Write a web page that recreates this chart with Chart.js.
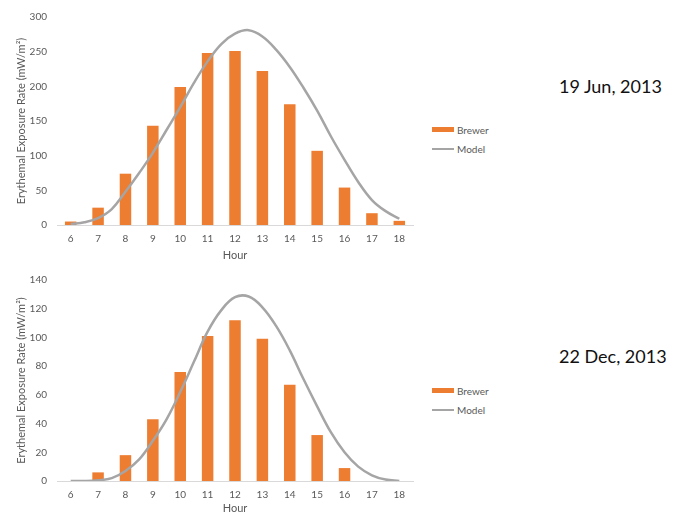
<!DOCTYPE html>
<html>
<head>
<meta charset="utf-8">
<script src="https://cdn.jsdelivr.net/npm/chart.js@4.4.0/dist/chart.umd.min.js"></script>
<style>
    body { margin: 0; background: #fff; font-family: Lato, "Open Sans", sans-serif; }
    .box { position: absolute; left: 0; width: 420px; }
    .date { position: absolute; font-size: 18px; color: #111; left: 559px; }
    .legend { position: absolute; left: 432px; font-size: 10px; color: #595959; }
    .legend div { height: 19px; display: flex; align-items: center; }
    .sw { display: inline-block; width: 22px; margin-right: 3px; }
</style>
</head>
<body>
<div class="box" style="top:0;height:262px;"><canvas id="chart-jun"></canvas></div>
<div class="box" style="top:262px;height:253px;"><canvas id="chart-dec"></canvas></div>

<div class="date" style="top:75px;">19 Jun, 2013</div>
<div class="legend" style="top:120px;">
    <div><span class="sw" style="height:5px;background:#ED7D31;"></span>Brewer</div>
    <div><span class="sw" style="height:2px;background:#A5A5A5;"></span>Model</div>
</div>

<div class="date" style="top:345px;">22 Dec, 2013</div>
<div class="legend" style="top:381px;">
    <div><span class="sw" style="height:5px;background:#ED7D31;"></span>Brewer</div>
    <div><span class="sw" style="height:2px;background:#A5A5A5;"></span>Model</div>
</div>

<script>
const hours = ["6", "7", "8", "9", "10", "11", "12", "13", "14", "15", "16", "17", "18"];

// Brewer measurements, one per hour
const brewerJun = [5, 25, 74, 143, 199, 248, 251, 222, 174, 107, 54, 17, 6];
const brewerDec = [0, 6, 18, 43, 76, 101, 112, 99, 67, 32, 9, 0, 0];

// Model curve, read every half hour
const modelHours = [6, 6.5, 7, 7.5, 8, 8.5, 9, 9.5, 10, 10.5, 11, 11.5, 12,
    12.5, 13, 13.5, 14, 14.5, 15, 15.5, 16, 16.5, 17, 17.5, 18];
const modelJun = [1.5, 4, 10, 23, 48, 75, 104, 137, 170, 205, 236, 261, 276,
    281, 272, 253, 228, 198, 165, 128, 94, 62, 36, 20, 9];
const modelDec = [0, 0, 0.5, 2, 7, 15, 28, 43, 62, 83, 104, 119, 128,
    128.5, 121, 108, 91, 71, 52, 34, 20, 10, 4, 1, 0];

const yTitle = "Erythemal Exposure Rate (mW/m\u00B2)";
const tickColor = "#595959";
const fontFamily = "Lato, 'Open Sans', sans-serif";

function makeChart(canvasId, brewer, model, yMax, yStep, padTop, xHeight) {
    const canvas = document.getElementById(canvasId);
    if (!canvas) {
        return;
    }

    return new Chart(canvas, {
        type: "bar",
        data: {
            labels: hours,
            datasets: [
                {
                    type: "line",
                    label: "Model",
                    data: modelHours.map((h, i) => ({ x: h, y: model[i] })),
                    xAxisID: "xm",
                    borderColor: "#A5A5A5",
                    borderWidth: 2.5,
                    pointRadius: 0,
                    tension: 0.4,
                    fill: false,
                    order: 0,
                },
                {
                    label: "Brewer",
                    data: brewer,
                    backgroundColor: "#ED7D31",
                    grouped: false,
                    categoryPercentage: 1,
                    barPercentage: 0.42,
                    order: 1,
                },
            ],
        },
        options: {
            responsive: true,
            maintainAspectRatio: false,
            animation: false,
            layout: {
                padding: { top: padTop, left: 0, right: 7, bottom: 0 },
            },
            scales: {
                x: {
                    grid: { display: false },
                    border: { display: true, color: "#d9d9d9" },
                    ticks: {
                        color: tickColor,
                        padding: 0,
                        font: { family: fontFamily, size: 10 },
                    },
                    title: {
                        display: true,
                        text: "Hour",
                        color: tickColor,
                        font: { family: fontFamily, size: 11 },
                        padding: { top: 2, bottom: 0 },
                    },
                    afterFit: (scale) => {
                        scale.height = xHeight;
                    },
                },
                xm: {
                    type: "linear",
                    display: false,
                    offset: false,
                    bounds: "data",
                    min: 5.5,
                    max: 18.5,
                },
                y: {
                    min: 0,
                    max: yMax,
                    grid: { display: false },
                    border: { display: false },
                    ticks: {
                        stepSize: yStep,
                        color: tickColor,
                        padding: 2,
                        font: { family: fontFamily, size: 10 },
                    },
                    title: {
                        display: true,
                        text: yTitle,
                        color: tickColor,
                        font: { family: fontFamily, size: 11 },
                        padding: { top: 15, bottom: 0 },
                    },
                    afterFit: (scale) => {
                        scale.width = 57;
                    },
                },
            },
            plugins: {
                legend: { display: false },
                tooltip: { enabled: false },
            },
        },
    });
}

makeChart("chart-jun", brewerJun, modelJun, 300, 50, 17, 37);
makeChart("chart-dec", brewerDec, modelDec, 140, 20, 18, 34);
</script>
</body>
</html>
